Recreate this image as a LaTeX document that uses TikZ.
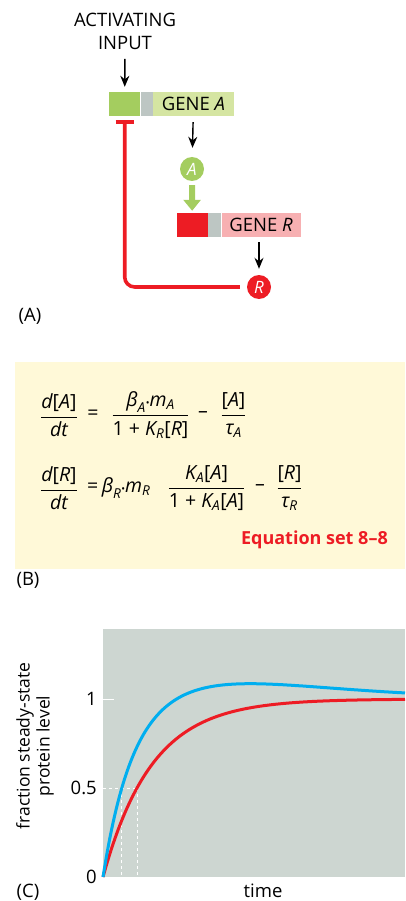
\documentclass[tikz,border=0pt]{standalone}
\usepackage{fontspec}
\setmainfont{Open Sans}
\usepackage{amsmath}
\usetikzlibrary{arrows.meta,positioning}

\definecolor{promgreen}{HTML}{A4CD5F}
\definecolor{genegreen}{HTML}{D5E5A2}
\definecolor{spacergray}{HTML}{BDC6C3}
\definecolor{repred}{HTML}{ED1C24}
\definecolor{genepink}{HTML}{F7B0B2}
\definecolor{eqyellow}{HTML}{FFF9D8}
\definecolor{plotgray}{HTML}{CDD6D1}
\definecolor{curveblue}{HTML}{00AEEF}

% italic variable and concentration inside math
\newcommand{\vv}[1]{\text{\itshape #1}}
\newcommand{\cc}[1]{\text{[}\vv{#1}\text{]}}
\newcommand{\dotop}{\text{\fontsize{10}{10}\selectfont•}}

\begin{document}
\begin{tikzpicture}[x=1pt, y=-1pt, font=\fontsize{18.5}{23}\selectfont]
  \useasboundingbox (0,0) rectangle (405,901);
  \tikzset{segment/.style={minimum height=24pt, inner sep=0pt, anchor=west},
           protein/.style={circle, minimum size=24pt, inner sep=0pt, text=white, font=\fontsize{17}{17}\selectfont\itshape},
           flow/.style={-{Stealth[length=11pt, width=9pt]}, line width=1.4pt},
           repress/.style={-{Bar[width=18pt]}, repred, line width=3.6pt, rounded corners=10pt},
           eqpart/.style={inner sep=0pt, font=\fontsize{19.5}{24}\selectfont},
           halfmark/.style={white, line width=1pt, dash pattern=on 3pt off 3pt},
           curve/.style={line width=3pt, line join=round}}
  % ---- (A) feed-forward circuit ----
  \node[align=center] (input) at (125,31) {ACTIVATING\\INPUT};
  \node[segment, fill=promgreen, minimum width=31pt] (promA) at (109,104) {};
  \node[segment, fill=spacergray, minimum width=12pt] (spcA) at (promA.east) {};
  \node[segment, fill=genegreen, minimum width=81pt] (geneA) at (spcA.east) {GENE \textit{A}};
  \node[protein, fill=promgreen] (protA) at (192,169) {A};
  \node[segment, fill=repred, minimum width=31pt] (promR) at (176.5,225) {};
  \node[segment, fill=spacergray, minimum width=13pt] (spcR) at (promR.east) {};
  \node[segment, fill=genepink, minimum width=79pt] (geneR) at (spcR.east) {GENE \textit{R}};
  \node[protein, fill=repred] (protR) at (259,287) {R};
  \draw[flow, shorten <=6pt, shorten >=5pt] (input) -- (promA);
  \draw[flow, shorten <=6pt, shorten >=9pt] (geneA) -- (protA);
  \draw[-{Triangle[width=17pt, length=11pt]}, promgreen, line width=6pt, shorten <=4pt, shorten >=2pt] (protA) -- (promR);
  \draw[flow, shorten <=5pt, shorten >=6pt] (protR |- geneR.south) -- (protR.north);
  \draw[repress, shorten <=7pt, shorten >=4pt] (protR.west) -| (promA.south);
  \node (labA) at (30,316) {(A)};
  % ---- (B) equations ----
  \fill[eqyellow] (15,362) rectangle (405,569);
  \node[eqpart] (dA) at (59,415) {$\dfrac{\vv{d}\cc{A}}{\vv{dt}}$};
  \node[eqpart] (eqA) at (93,415) {=};
  \node[eqpart] (prodA) at (150.5,415) {$\dfrac{\vv{β}_{\vv{A}}\dotop\vv{m}_{\vv{A}}}{\text{1 + }\vv{K}_{\vv{R}}\cc{R}}$};
  \node[eqpart] (minA) at (203,415) {–};
  \node[eqpart] (decA) at (233.5,415) {$\dfrac{\cc{A}}{\vv{τ}_{\vv{A}}}$};
  \node[eqpart] (dR) at (59,488) {$\dfrac{\vv{d}\cc{R}}{\vv{dt}}$};
  \node[eqpart, anchor=west] (eqR) at (87,488) {$\text{=}\,\vv{β}_{\vv{R}}\dotop\vv{m}_{\vv{R}}$};
  \node[eqpart] (prodR) at (206.5,488) {$\dfrac{\vv{K}_{\vv{A}}\cc{A}}{\text{1 + }\vv{K}_{\vv{A}}\cc{A}}$};
  \node[eqpart] (minR) at (260,488) {–};
  \node[eqpart] (decR) at (289.5,488) {$\dfrac{\cc{R}}{\vv{τ}_{\vv{R}}}$};
  \node[anchor=east, inner sep=0pt, text=repred, font=\fontsize{18}{22}\selectfont\bfseries] (eqset) at (388,540) {Equation set 8–8};
  \node (labB) at (28,580) {(B)};
  % ---- (C) time course ----
  \fill[plotgray] (103,629) rectangle (405,877);
  \draw[white, line width=1pt] (103,699) -- (114,699);
  \draw[halfmark] (103,788) -- (138,788);
  \foreach \xh in {121,137} { \draw[halfmark] (\xh,788) -- (\xh,877); }
  \foreach \v/\t/\n in {0/0/zero, 0.5/0.5/half, 1/1/one} {
    \node[anchor=east, inner sep=0pt] (tick\n) at (97,877-178*\v) {\t};
  }
  \draw[curve, repred] plot[domain=0:302, samples=80, smooth] ({103+\x}, {877-178*(1-exp(-\x/49))});
  \draw[curve, curveblue] plot[domain=0:302, samples=90, smooth] ({103+\x}, {877-178*(1-exp(-\x/28)+0.172*(\x/64)^2*exp(-\x/64))});
  \node[rotate=90, align=center, font=\fontsize{17.5}{20}\selectfont] (ylab) at (35,746) {fraction steady-state\\protein level};
  \node (xlab) at (263,891) {time};
  \node (labC) at (28,892) {(C)};
\end{tikzpicture}
\end{document}
